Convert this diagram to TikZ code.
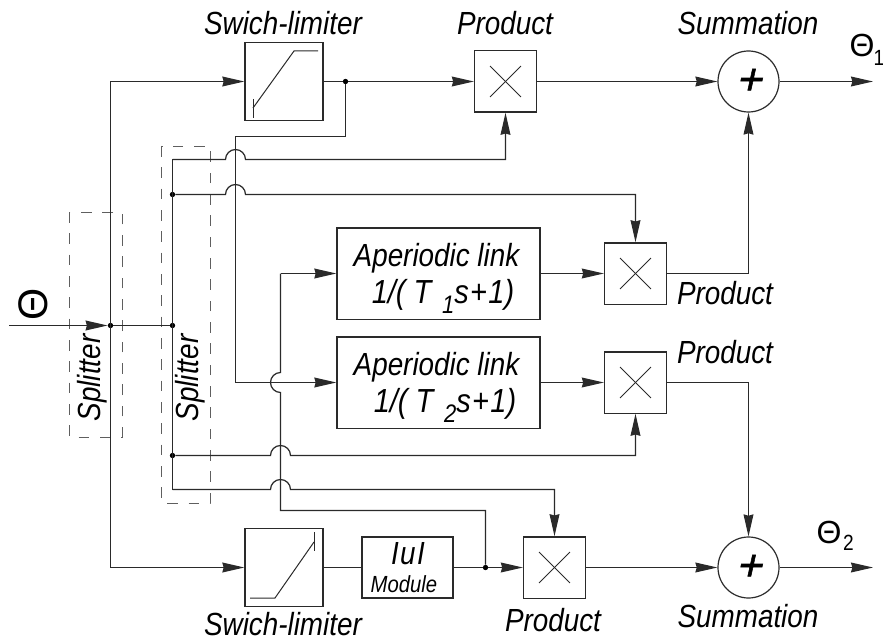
\documentclass[tikz,border=0pt]{standalone}
\usepackage{fontspec}
\setmainfont{Liberation Sans}[FakeStretch=0.87]
\newfontfamily\thetafont{Liberation Sans}
\newfontfamily\plusfont{Liberation Sans}[FakeSlant=0.22,FakeBold=1.2]
\usetikzlibrary{arrows.meta}
\definecolor{ink}{HTML}{2A2A2A}
\tikzset{
  wire/.style={draw=ink,line width=0.9pt},
  arr/.style={wire,-{Stealth[length=16.5pt,width=7.4pt,inset=1pt]}},
  blockbox/.style={draw=ink,line width=1pt,inner sep=0pt,anchor=center},
  limbox/.style={blockbox,minimum width=58.5pt,minimum height=58.5pt},
  prodbox/.style={blockbox,minimum width=46.5pt,minimum height=46pt},
  linkbox/.style={blockbox,minimum width=152.25pt,minimum height=68.5pt},
  modbox/.style={blockbox,minimum width=68.25pt,minimum height=45.75pt},
  sumnode/.style={circle,draw=ink,line width=0.9pt,inner sep=0pt,minimum size=45.75pt,font=\fontsize{33}{33}\plusfont},
  dotn/.style={circle,fill=black,inner sep=0pt,minimum size=4pt},
  lab/.style={inner sep=0pt,font=\fontsize{24}{26}\selectfont\itshape,text=black},
  baselab/.style={lab,anchor=base},
  formula/.style={baselab,font=\fontsize{25}{28}\selectfont\itshape},
  sym/.style={inner sep=0pt,font=\fontsize{24}{26}\thetafont,text=black},
  subs/.style={inner sep=0pt,font=\fontsize{16.5}{18}\selectfont,text=black},
  dashbox/.style={draw=ink!75,line width=0.6pt,dash pattern=on 8pt off 8pt},
  thin glyph/.style={draw=ink,line width=0.75pt}
}
\newcommand{\hop}{arc[start angle=180,end angle=0,radius=7.5pt]}
\newcommand{\lowidx}[1]{\raisebox{-7.5pt}{\fontsize{19}{19}\selectfont #1}}
\begin{document}
\begin{tikzpicture}[x=0.75pt,y=-0.75pt]
\useasboundingbox (0,0) rectangle (883,642);
% dashed splitters
\draw[dashbox] (69,212) rectangle (122,437);
\draw[dashbox] (161.5,146) rectangle (210,503);
% blocks
\node[limbox] (lim1) at (284,81.5) {};
\node[prodbox] (p1) at (505.5,81.5) {};
\node[sumnode] (s1) at (748.5,81.5) {+};
\node[linkbox] (ap1) at (438.5,273.5) {};
\node[prodbox] (p2) at (635.5,273.5) {};
\node[linkbox] (ap2) at (438.5,382.5) {};
\node[prodbox] (p3) at (635.5,382.5) {};
\node[limbox] (lim2) at (284,567.5) {};
\node[modbox] (mod) at (407.5,567.5) {};
\node[prodbox] (p4) at (554.5,567.5) {};
\node[sumnode] (s2) at (748.5,567.5) {+};
% glyphs in blocks
\foreach \p in {p1,p2,p3,p4}{
  \draw[thin glyph] (\p.center)+(-11.6pt,-11.6pt) -- +(11.6pt,11.6pt);
  \draw[thin glyph] (\p.center)+(-11.6pt,11.6pt) -- +(11.6pt,-11.6pt);
}
\draw[thin glyph] (253,99) -- (253,118);
\draw[thin glyph] (253,108) -- (294,51) -- (318,51);
\draw[thin glyph] (250,598) -- (275,598) -- (314,542);
\draw[thin glyph] (314,532) -- (314,551);
% junctions and free ends
\node[dotn] (d0) at (110.5,325.5) {};
\node[dotn] (d1) at (172.5,325.5) {};
\node[dotn] (d2) at (172.5,194.5) {};
\node[dotn] (d3) at (172.5,455.5) {};
\node[dotn] (d4) at (345.5,81.5) {};
\node[dotn] (d5) at (485.5,567.5) {};
\coordinate (in) at (9,325.5);
\coordinate (o1) at (873,81.5);
\coordinate (o2) at (873,567.5);
\coordinate (a1) at (110.5,81.5);
\coordinate (a2) at (110.5,567.5);
\coordinate (b1) at (172.5,159.5);
\coordinate (b2) at (172.5,489.5);
\coordinate (c1) at (345.5,136.5);
\coordinate (c2) at (235.5,136.5);
\coordinate (c3) at (235.5,382.5);
\coordinate (e1) at (280.5,273.5);
\coordinate (e2) at (280.5,510.5);
\coordinate (e3) at (485.5,510.5);
\coordinate (f1) at (748.5,273.5);
\coordinate (f2) at (748.5,382.5);
% main lines
\draw[arr] (in) -- (d0);
\draw[wire] (d0) -- (d1);
\draw[wire] (a1) -- (a2);
\draw[arr] (a1) -- (lim1);
\draw[arr] (a2) -- (lim2);
\draw[wire] (lim1) -- (d4);
\draw[arr] (d4) -- (p1);
\draw[arr] (p1) -- (s1);
\draw[arr] (s1) -- (o1);
\draw[wire] (b1) -- (b2);
% branches with hops
\draw[arr] (b1) -- (225.5,159.5) \hop -- (505.5,159.5) -- (p1.south);
\draw[arr] (d2) -- (225.5,194.5) \hop -- (635.5,194.5) -- (p2.north);
\draw[arr] (d3) -- (270.5,455.5) \hop -- (635.5,455.5) -- (p3.south);
\draw[arr] (b2) -- (270.5,489.5) \hop -- (554.5,489.5) -- (p4.north);
\draw[wire] (d4) -- (c1) -- (c2) -- (c3);
\draw[arr] (c3) -- (ap2);
\draw[wire] (e1) -- (280.5,372.5) arc[start angle=90,end angle=270,radius=7.5pt] -- (e2) -- (e3) -- (d5);
\draw[arr] (e1) -- (ap1);
\draw[arr] (ap1) -- (p2);
\draw[arr] (ap2) -- (p3);
\draw[wire] (p2) -- (f1);
\draw[arr] (f1) -- (s1);
\draw[wire] (p3) -- (f2);
\draw[arr] (f2) -- (s2);
\draw[wire] (lim2) -- (mod);
\draw[wire] (mod) -- (d5);
\draw[arr] (d5) -- (p4);
\draw[arr] (p4) -- (s2);
\draw[arr] (s2) -- (o2);
% labels
\node[lab] (l1) at (283,23) {Swich-limiter};
\node[lab] (l2) at (505,23) {Product};
\node[lab] (l3) at (748,23) {Summation};
\node[lab] (l4) at (725,293) {Product};
\node[lab] (l5) at (725,352) {Product};
\node[lab] (l6) at (283,624) {Swich-limiter};
\node[lab] (l7) at (553,620) {Product};
\node[lab] (l8) at (748,616) {Summation};
\node[lab,rotate=90] (l9) at (92,378) {Splitter};
\node[lab,rotate=90] (l10) at (190,378) {Splitter};
\node[baselab] (a1a) at (436.5,267) {Aperiodic link};
\node[formula] (a1b) at (443,303) {1/( T\kern2pt{} \lowidx{1}s\kern1pt{}+\kern1pt{}1)};
\node[baselab] (a2a) at (436.5,375) {Aperiodic link};
\node[formula] (a2b) at (445,412) {1/( T\kern2pt{} \lowidx{2}s\kern1pt{}+\kern1pt{}1)};
\node[lab] (l11) at (408,554) {I\kern1pt{}u\kern1pt{}I};
\node[lab,font=\fontsize{17.5}{18}\selectfont\itshape] (l12) at (404,584) {Module};
\node[sym,font=\fontsize{31}{32}\thetafont,rotate=90] (t0) at (33,304) {Θ};
\node[sym] (t1) at (862,45) {Θ};
\node[subs] (t1s) at (879,58) {1};
\node[sym] (t2) at (829,532) {Θ};
\node[subs] (t2s) at (848.5,543) {2};
\end{tikzpicture}
\end{document}
